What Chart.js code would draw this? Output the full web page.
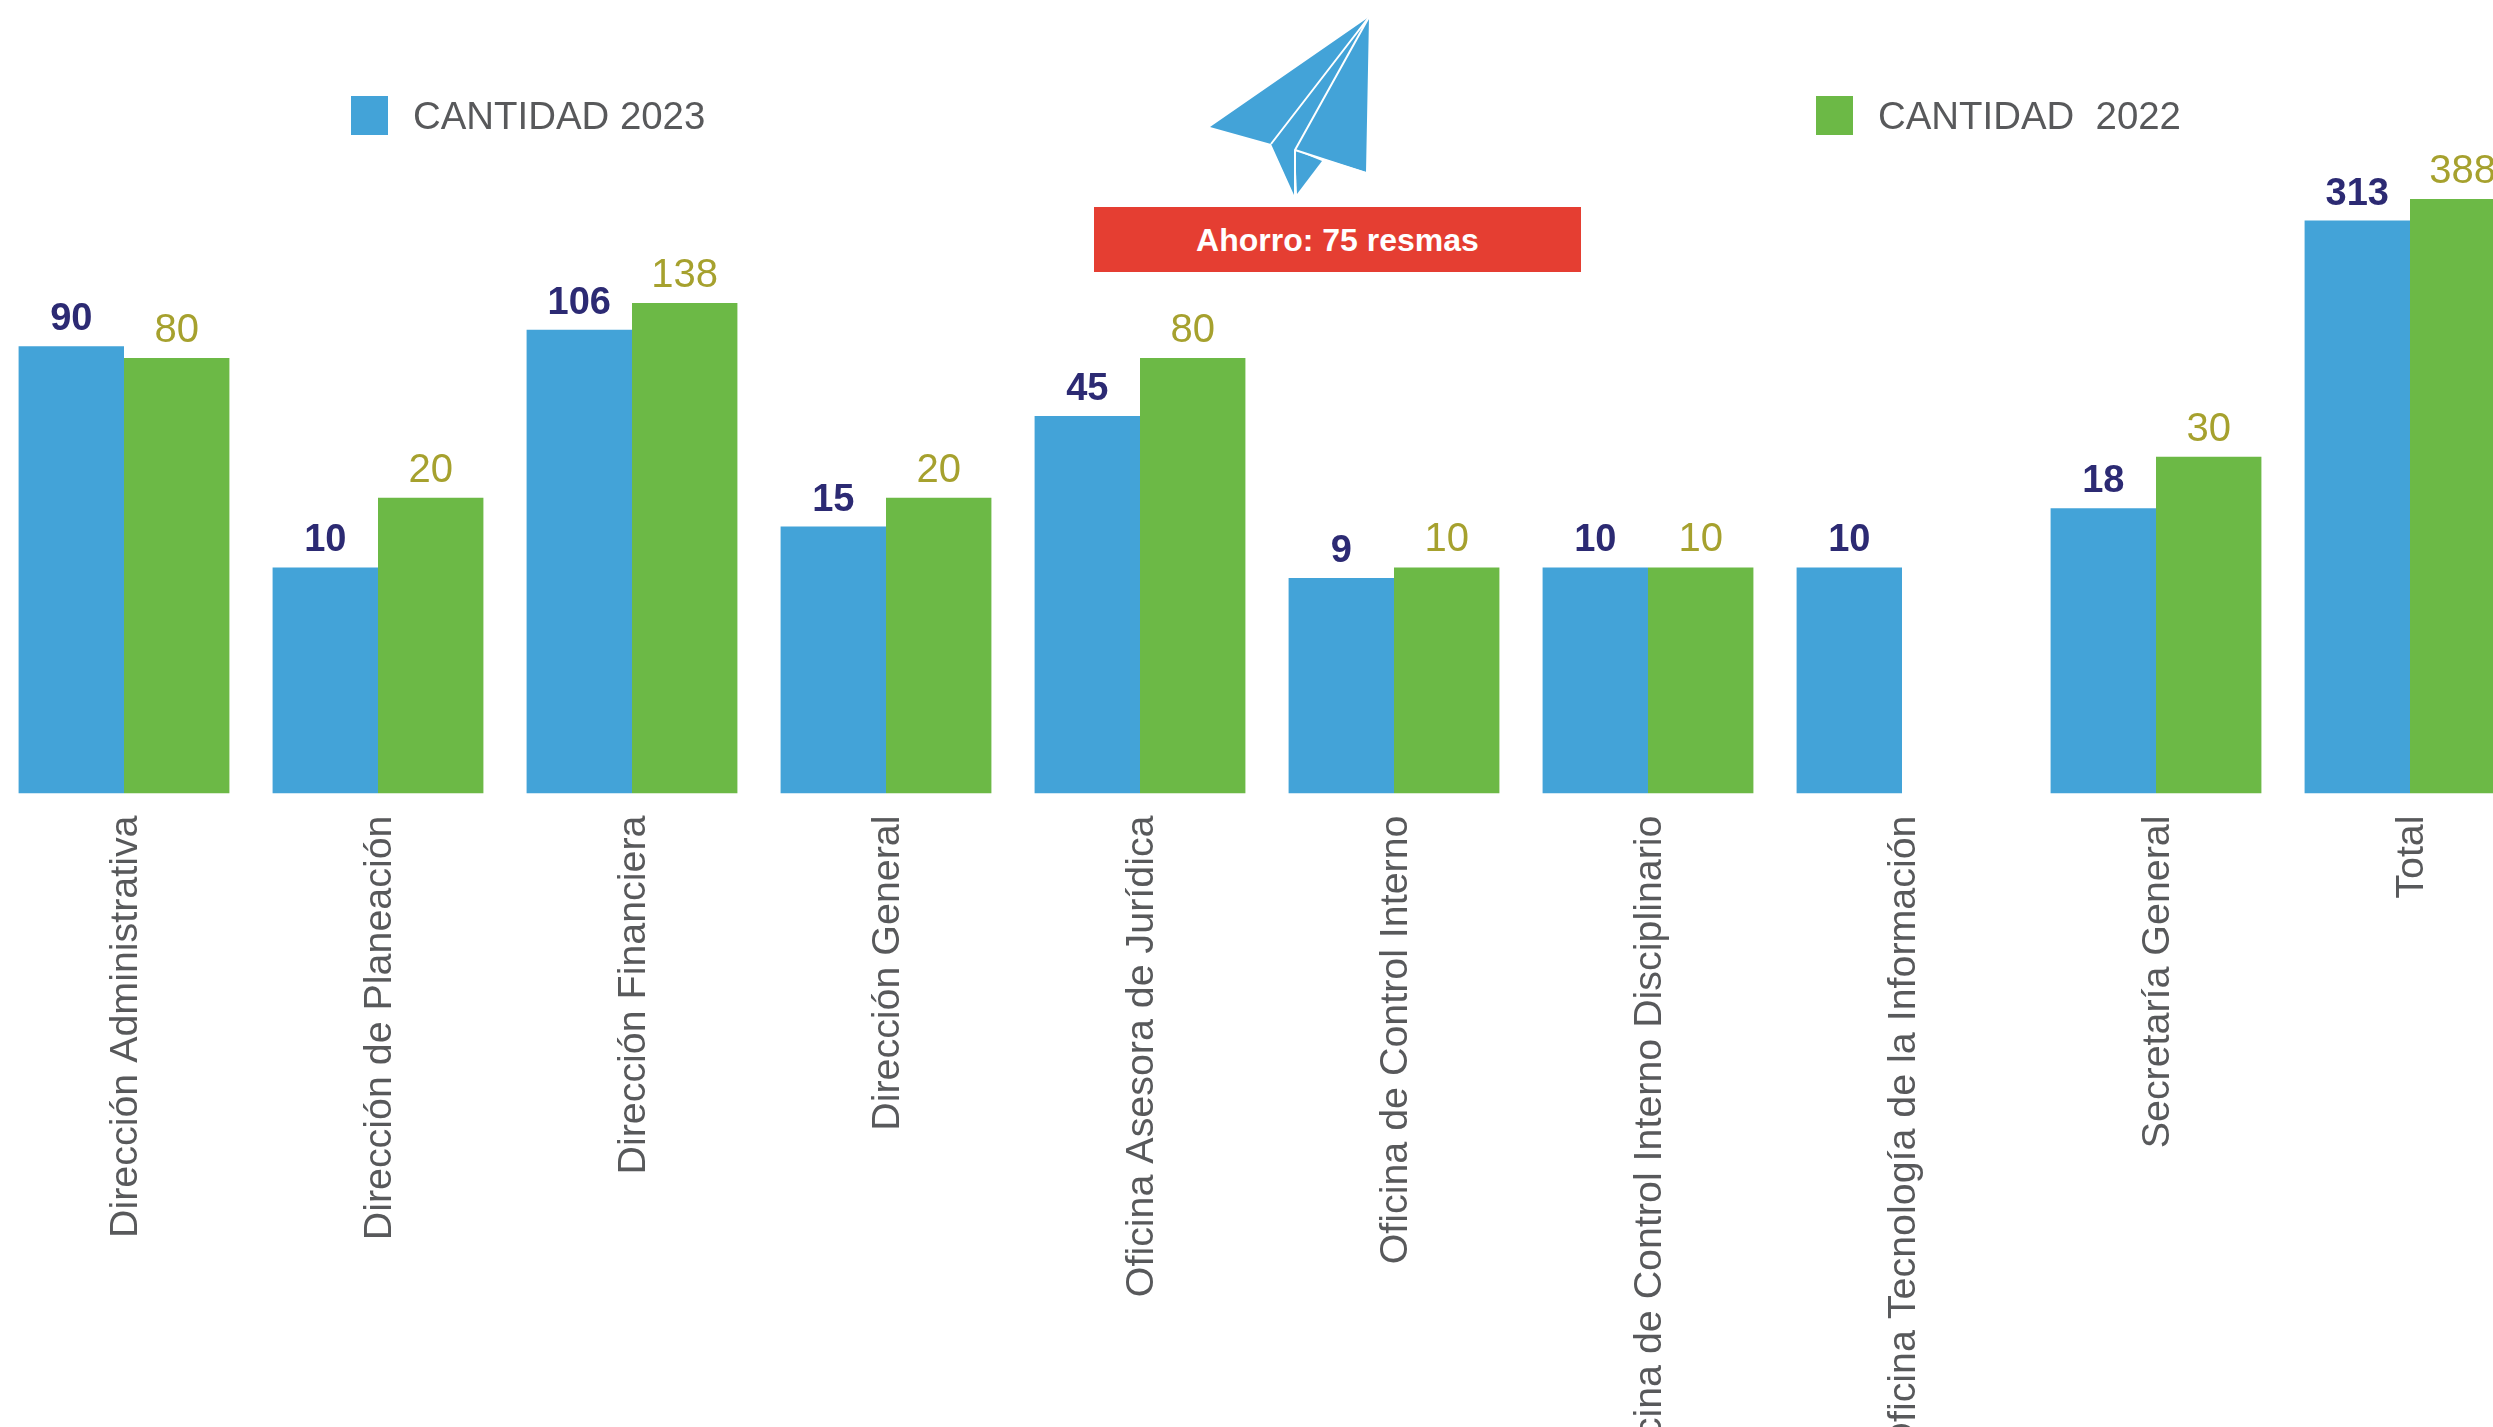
<!DOCTYPE html>
<html lang="es">
<head>
<meta charset="utf-8">
<title>Ahorro de resmas</title>
<script src="https://cdn.jsdelivr.net/npm/chart.js@4/dist/chart.umd.min.js"></script>
<style>
    html, body { margin: 0; background: #fff; overflow: hidden; }
    body { width: 2493px; height: 1427px; position: relative; font-family: "Liberation Sans", sans-serif; }
    #wrap { position: absolute; left: -3px; top: 0; }
    .legend-item { position: absolute; top: 96px; height: 39px; color: #58595b; font-size: 38.4px; line-height: 39px; white-space: pre; }
    .legend-item i { position: absolute; left: 0; top: 0; width: 37px; height: 39px; }
    .legend-item span { position: absolute; left: 62px; top: 0; }
    #ahorro { position: absolute; left: 1094px; top: 207px; width: 487px; height: 65px; background: #e53e32; color: #fff;
              font-size: 32px; font-weight: bold; line-height: 67px; text-align: center; }
    #plane { position: absolute; left: 0; top: 0; }
</style>
</head>
<body>
<div id="wrap"><canvas id="chart"></canvas></div>
<div id="legend"></div>
<svg id="plane" width="2493" height="210">
    <polygon points="1369,17 1210,127 1271,144 1294,195 1295,150 1366,172" fill="#43a3d8"/>
    <polygon points="1297,194 1295,150 1322,161" fill="#43a3d8"/>
    <polyline points="1271,144 1369,17 1295,150 1295,195" fill="none" stroke="#fff" stroke-width="2"/>
    <line x1="1295" y1="150" x2="1366" y2="173" stroke="#fff" stroke-width="2"/>
</svg>
<div id="ahorro">Ahorro: 75 resmas</div>

<script>
const categories = [
    'Dirección Administrativa', 'Dirección de Planeación', 'Dirección Financiera', 'Dirección General',
    'Oficina Asesora de Jurídica', 'Oficina de Control Interno', 'Oficina de Control Interno Disciplinario',
    'Oficina Tecnología de la Información', 'Secretaría General', 'Total'
];
const cantidad2023 = [90, 10, 106, 15, 45, 9, 10, 10, 18, 313];
const cantidad2022 = [80, 20, 138, 20, 80, 10, 10, null, 30, 388];

const blue = '#43a3d8';
const green = '#6cb946';
const canvasWidth = 2540;
const canvasHeight = 1427;
const axisBottom = 793.5;

// valores encima de cada barra
const barLabels = {
    id: 'barLabels',
    afterDatasetsDraw(chart) {
        const ctx = chart.ctx;
        ctx.save();
        ctx.textAlign = 'center';
        ctx.textBaseline = 'alphabetic';
        chart.data.datasets.forEach((dataset, i) => {
            ctx.font = dataset.labelFont;
            ctx.fillStyle = dataset.labelColor;
            chart.getDatasetMeta(i).data.forEach((bar, j) => {
                if (dataset.data[j] === null) return;
                ctx.fillText(dataset.data[j], bar.x, bar.y - dataset.labelGap);
            });
        });
        ctx.restore();
    }
};

const canvas = document.getElementById('chart');
canvas.width = canvasWidth;
canvas.height = canvasHeight;
canvas.style.width = canvasWidth + 'px';
canvas.style.height = canvasHeight + 'px';

const chart = new Chart(canvas, {
    type: 'bar',
    data: {
        labels: categories,
        datasets: [
            { label: 'CANTIDAD 2023', data: cantidad2023, backgroundColor: blue, labelColor: '#2c2a73', labelFont: 'bold 38px "Liberation Sans"', labelGap: 16 },
            { label: 'CANTIDAD  2022', data: cantidad2022, backgroundColor: green, labelColor: '#a6a12e', labelFont: '40px "Liberation Sans"', labelGap: 16 }
        ]
    },
    options: {
        responsive: false,
        animation: false,
        layout: { padding: { top: 103.6 } },
        categoryPercentage: 0.83,
        barPercentage: 1,
        scales: {
            x: {
                grid: { display: false, drawTicks: false },
                border: { display: false },
                ticks: {
                    autoSkip: false,
                    minRotation: 90,
                    maxRotation: 90,
                    padding: 22,
                    labelOffset: 2,
                    color: '#58595b',
                    font: { family: '"Liberation Sans"', size: 39.4 }
                },
                afterFit(scale) { scale.height = canvasHeight - axisBottom; }
            },
            y: { type: 'logarithmic', display: false, min: 1.06, max: 1000 }
        },
        plugins: { legend: { display: false }, tooltip: { enabled: false } }
    },
    plugins: [barLabels]
});

// leyenda en HTML, las dos entradas quedan muy separadas
const legendLeft = [351, 1816];
chart.data.datasets.forEach((dataset, i) => {
    const item = document.createElement('div');
    item.className = 'legend-item';
    item.style.left = legendLeft[i] + 'px';
    item.innerHTML = `<i style="background:${dataset.backgroundColor}"></i><span>${dataset.label}</span>`;
    document.getElementById('legend').appendChild(item);
});
</script>
</body>
</html>
